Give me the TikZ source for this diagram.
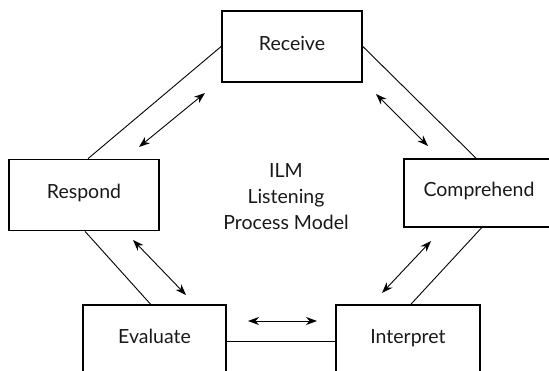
\documentclass[tikz,border=0pt]{standalone}
\usepackage{fontspec}
\setmainfont{Lato}
\usetikzlibrary{arrows.meta}
\begin{document}
\begin{tikzpicture}[x=1pt,y=-1pt,
  stagebox/.style={draw=black,line width=1.7pt,inner sep=0pt,
    font=\fontsize{19.5}{24}\selectfont,text=black!90,
    text height=0.72em,text depth=0pt},
  conn/.style={draw=black,line width=0.9pt},
  dbl/.style={draw=black,line width=0.9pt,
    {Stealth[length=11pt,width=8pt,inset=3.5pt]}-{Stealth[length=11pt,width=8pt,inset=3.5pt]}},
  centre/.style={align=center,font=\fontsize{19.5}{26}\selectfont,text=black!90}]
\useasboundingbox (0,0) rectangle (549,371);
\clip (0,0) rectangle (549,371);
\node[stagebox,minimum width=140pt,minimum height=71pt] (rec) at (292,46.5) {Receive};
\node[stagebox,minimum width=150pt,minimum height=71pt] (res) at (84,195) {Respond};
\node[stagebox,minimum width=150pt,minimum height=68pt] (com) at (479,193) {Comprehend};
\node[stagebox,minimum width=143pt,minimum height=70pt] (eva) at (154.5,340) {Evaluate};
\node[stagebox,minimum width=144pt,minimum height=70pt] (int) at (408,340) {Interpret};
\node[centre] (mid) at (286,197) {ILM\\Listening\\Process Model};
\draw[conn] (rec.west) -- ([xshift=4pt]res.north);
\draw[conn] (rec.east) -- ([xshift=-3pt]com.north);
\draw[conn] ([xshift=1pt]res.south) -- ([xshift=-4pt]eva.north);
\draw[conn] ([xshift=2.5pt]com.south) -- ([xshift=3pt]int.north);
\draw[conn] ([yshift=-1pt]eva.east) -- ([yshift=-1pt]int.west);
\coordinate (a1s) at (205,93);  \coordinate (a1e) at (139,147);
\coordinate (a2s) at (376,94);  \coordinate (a2e) at (428,146);
\coordinate (a3s) at (133,240); \coordinate (a3e) at (186,295);
\coordinate (a4s) at (431,241); \coordinate (a4e) at (382,293);
\coordinate (a5s) at (248,321); \coordinate (a5e) at (317,321);
\draw[dbl] (a1s) -- (a1e);
\draw[dbl] (a2s) -- (a2e);
\draw[dbl] (a3s) -- (a3e);
\draw[dbl] (a4s) -- (a4e);
\draw[dbl] (a5s) -- (a5e);
\end{tikzpicture}
\end{document}
